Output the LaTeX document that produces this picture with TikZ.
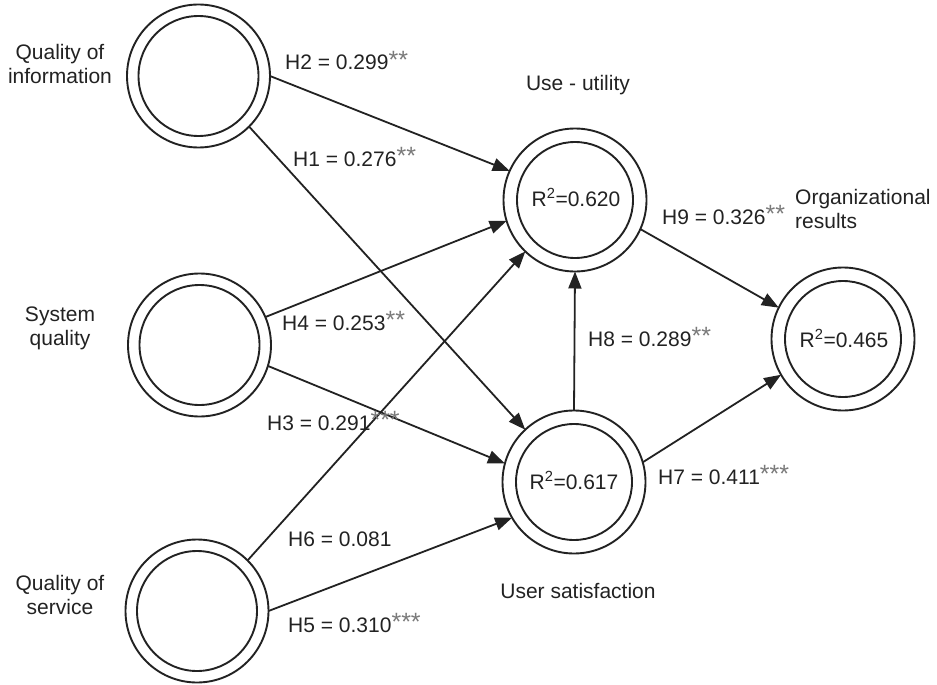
\documentclass[tikz,border=0pt]{standalone}
\usepackage{fontspec}
\setmainfont{Liberation Sans}
\usetikzlibrary{arrows.meta}
\definecolor{ink}{HTML}{222222}
\definecolor{stargray}{HTML}{7A7A7A}
\newcommand{\sigstars}[1]{\raisebox{1.5pt}{\fontsize{25}{25}\selectfont\textcolor{stargray}{#1}}}
\begin{document}
\begin{tikzpicture}[x=1pt,y=-1pt,
  construct/.style={circle, draw=ink, line width=1.9pt, minimum size=143pt, inner sep=0pt, outer sep=0pt,
    path picture={\draw[ink, line width=1.9pt] (path picture bounding box.center) circle[radius=#1];}},
  construct/.default=60pt,
  lbl/.style={font=\fontsize{21}{24}\selectfont, text=ink, inner sep=0pt},
  conn/.style={-{Triangle[length=17pt,width=13pt]}, line width=1.8pt, draw=ink}
]
\useasboundingbox[fill=white] (0,0) rectangle (937,685);

% constructs
\node[construct] (qi) at (198.5,76) {};
\node[construct] (sq) at (199.5,345) {};
\node[construct] (qs) at (197,611) {};
\node[construct=58pt] (uu) at (575,200) {};
\node[construct=58pt] (us) at (574,482) {};
\node[construct=58pt] (or) at (843,339) {};

% construct labels (base = baseline of last line)
\node[lbl, align=center, anchor=base] (tqi) at (60,83) {Quality of\\information};
\node[lbl, align=center, anchor=base] (tsq) at (60,345) {System\\quality};
\node[lbl, align=center, anchor=base] (tqs) at (60,614) {Quality of\\service};
\node[lbl, anchor=base] (tuu) at (578,91) {Use - utility};
\node[lbl, anchor=base] (tus) at (578,598) {User satisfaction};
\node[lbl, align=left, anchor=base west] (tor) at (795,228) {Organizational\\results};

% R squared
\node[lbl, anchor=base] (ruu) at (576,206) {R\textsuperscript{2}=0.620};
\node[lbl, anchor=base] (ror) at (844,347) {R\textsuperscript{2}=0.465};
\node[lbl, anchor=base] (rus) at (574,489) {R\textsuperscript{2}=0.617};

% paths
\draw[conn] (qi.0) -- (uu.156);
\draw[conn] (qi.-45) -- (us.133);
\draw[conn] (sq.23) -- (uu.197);
\draw[conn] (sq.-17) -- (us.165);
\draw[conn] (qs.45) -- (uu.226);
\draw[conn] (qs.0) -- (us.210);
\draw[conn] (us.90) -- (uu.270);
\draw[conn] (uu.-24) -- (or.154);
\draw[conn] (us.16) -- (or.210);

% path labels
\node[lbl, anchor=base west] (h2) at (285,70) {H2 = 0.299\sigstars{**}};
\node[lbl, anchor=base west] (h1) at (293,166) {H1 = 0.276\sigstars{**}};
\node[lbl, anchor=base west] (h4) at (282,330) {H4 = 0.253\sigstars{**}};
\node[lbl, anchor=base west] (h3) at (267,430) {H3 = 0.291\sigstars{***}};
\node[lbl, anchor=base west] (h6) at (288,546) {H6 = 0.081};
\node[lbl, anchor=base west] (h5) at (288,632) {H5 = 0.310\sigstars{***}};
\node[lbl, anchor=base west] (h9) at (662,224) {H9 = 0.326\sigstars{**}};
\node[lbl, anchor=base west] (h8) at (588,346) {H8 = 0.289\sigstars{**}};
\node[lbl, anchor=base west] (h7) at (658,484) {H7 = 0.411\sigstars{***}};
\end{tikzpicture}
\end{document}
